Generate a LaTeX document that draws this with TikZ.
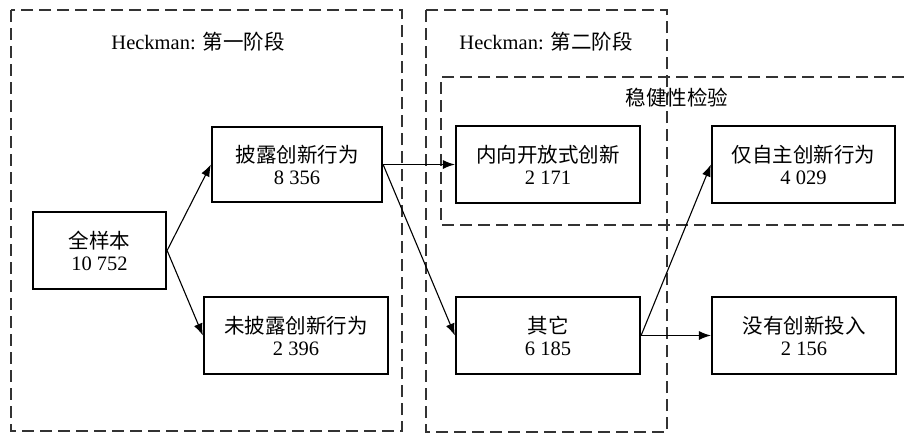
\documentclass[tikz,border=0pt]{standalone}
\usepackage{fontspec}
\setmainfont{Liberation Serif}
\newfontfamily\cjk{Noto Sans CJK SC}
\usetikzlibrary{arrows.meta}
\begin{document}
\begin{tikzpicture}[x=1pt,y=-1pt,
  every node/.style={font=\fontsize{20.5}{22}\selectfont},
  stagebox/.style={draw=black!80,line width=1.3pt,dash pattern=on 12pt off 6pt},
  databox/.style={draw,line width=2.2pt,fill=white,align=center,inner sep=0pt,minimum height=77pt},
  arr/.style={draw,line width=1.1pt,-{Latex[length=12pt,width=9pt]}},
  lbl/.style={inner sep=0pt}]
\useasboundingbox[fill=white] (0,0) rectangle (904,434);
% dashed frames
\draw[stagebox] (11,10) rectangle (402,431);
\draw[stagebox] (426,10) rectangle (667,432);
\draw[stagebox] (904,77) -- (441,77) -- (441,225) -- (904,225);
\node[lbl] (t1) at (198,42) {Heckman: {\cjk 第一阶段}};
\node[lbl] (t2) at (546,42) {Heckman: {\cjk 第二阶段}};
\node[lbl] (t3) at (677,98) {\cjk 稳健性检验};
% data boxes
\node[databox,minimum width=133pt] (n0) at (99.5,250.5) {{\cjk 全样本}\\10~752};
\node[databox,minimum width=170pt,minimum height=75pt] (n1) at (297,164.5) {{\cjk 披露创新行为}\\8~356};
\node[databox,minimum width=184pt] (n2) at (296,335.5) {{\cjk 未披露创新行为}\\2~396};
\node[databox,minimum width=184pt] (n3) at (548,164.5) {{\cjk 内向开放式创新}\\2~171};
\node[databox,minimum width=184pt] (n4) at (548,335.5) {{\cjk 其它}\\6~185};
\node[databox,minimum width=183pt] (n5) at (803.5,164.5) {{\cjk 仅自主创新行为}\\4~029};
\node[databox,minimum width=184pt] (n6) at (804,335.5) {{\cjk 没有创新投入}\\2~156};
% connectors
\draw[arr] (n0.east) -- (n1.west);
\draw[arr] (n0.east) -- (n2.west);
\draw[arr] (n1.east) -- (n3.west);
\draw[arr] (n1.east) -- (n4.west);
\draw[arr] (n4.east) -- (n5.west);
\draw[arr] (n4.east) -- (n6.west);
\end{tikzpicture}
\end{document}
